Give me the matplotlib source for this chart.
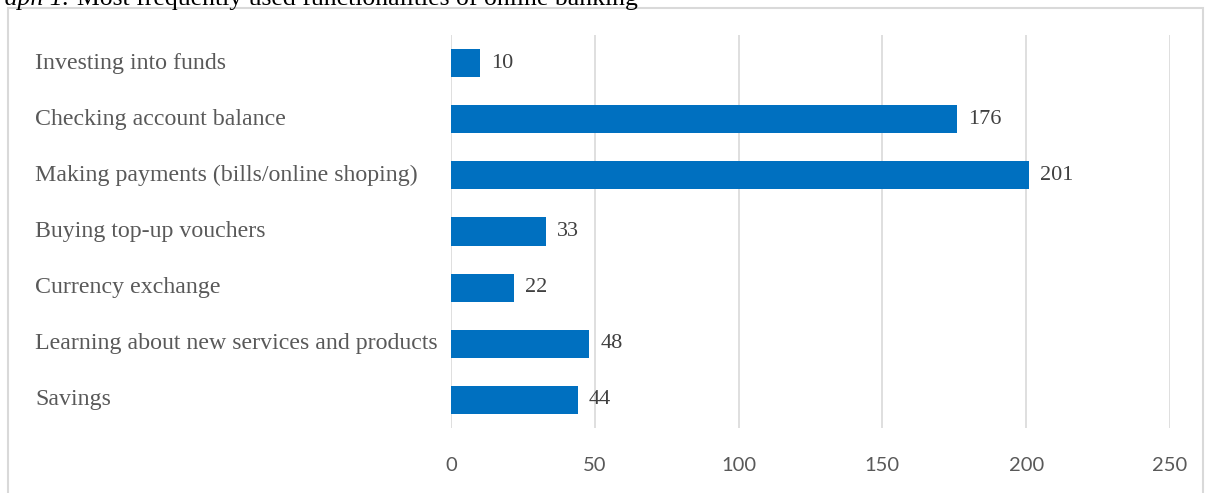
#!/usr/bin/env python3
"""
Most frequently used functionalities of online banking - horizontal bar chart.
"""

import matplotlib.pyplot as plt
from matplotlib.patches import Rectangle
from matplotlib.transforms import blended_transform_factory

categories = [
    'Investing into funds',
    'Checking account balance',
    'Making payments (bills/online shoping)',
    'Buying top-up vouchers',
    'Currency exchange',
    'Learning about new services and products',
    'Savings',
]
counts = [10, 176, 201, 33, 22, 48, 44]
x_ticks = [0, 50, 100, 150, 200, 250]

BAR_COLOR = '#0070C0'
TEXT_COLOR = '#595959'
GRID_COLOR = '#D9D9D9'
SERIF = 'Liberation Serif'
W, H = 1205, 493

fig = plt.figure(figsize=(W / 100, H / 100), dpi=100)
fig.patch.set_facecolor('white')

# chart frame
fig.patches.append(Rectangle((8 / W, -0.05), 1195 / W, 1 - 8 / H + 0.05,
                             transform=fig.transFigure, fill=False,
                             edgecolor='#D9D9D9', linewidth=1.5))

# caption above the chart (cut off by the top edge)
fig.text(69 / W, 1 - 5 / H, 'Graph 1.', fontsize=18.5, family=SERIF,
         style='italic', ha='right', va='baseline', color='black')
fig.text(77 / W, 1 - 5 / H, 'Most frequently used functionalities of online banking',
         fontsize=18.5, family=SERIF, ha='left', va='baseline', color='black')

ax = fig.add_axes([451 / W, 1 - 428 / H, (1170 - 451) / W, (428 - 35) / H])
ypos = list(range(len(categories)))
ax.barh(ypos, counts, height=0.5, color=BAR_COLOR, zorder=3)
ax.set_xlim(0, 250)
ax.set_ylim(6.5, -0.5)

ax.set_xticks(x_ticks)
ax.set_xticklabels([str(t) for t in x_ticks], fontsize=14.5, color=TEXT_COLOR,
                   family='Lato')
ax.tick_params(axis='x', length=0, pad=21)
ax.set_yticks([])
ax.grid(axis='x', color=GRID_COLOR, linewidth=1.2, zorder=0)
for s in ax.spines.values():
    s.set_visible(False)

for y, v in zip(ypos, counts):
    ax.annotate(str(v), (v, y), xytext=(8, 0), textcoords='offset points',
                ha='left', va='center', fontsize=16, family=SERIF,
                color='#404040')

# category labels, left aligned inside the frame
lab_tr = blended_transform_factory(fig.transFigure, ax.transData)
for y, name in zip(ypos, categories):
    ax.text(35 / W, y, name, transform=lab_tr, ha='left', va='center',
            fontsize=17.2, family=SERIF, color=TEXT_COLOR)

plt.savefig('out.png', dpi=100, facecolor='white')
print("Saved: out.png")
